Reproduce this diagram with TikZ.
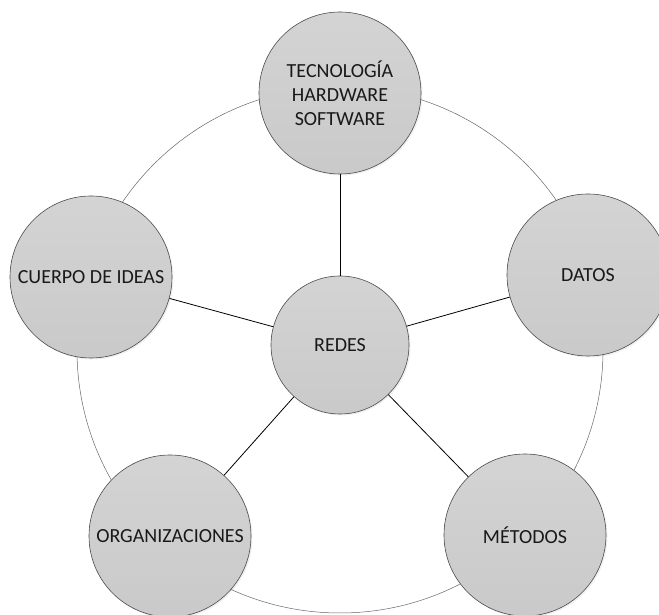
\documentclass[tikz,border=0pt]{standalone}
\usepackage{fontspec}
\setmainfont{Carlito}
\usetikzlibrary{shadows}

\tikzset{
  bola/.style={circle, draw=black!70, line width=0.6pt, top color=black!17, bottom color=black!21,
    minimum size=162pt, inner sep=0pt, align=center, font=\fontsize{20}{24}\selectfont,
    text=black!90, drop shadow={opacity=0.12, shadow xshift=1.5pt, shadow yshift=-1.5pt}},
  radio/.style={line width=0.8pt, black}
}

\begin{document}
\begin{tikzpicture}[x=1pt, y=1pt]
  \useasboundingbox (0,0) rectangle (659,615);
  % anillo exterior
  \draw[black!60, line width=0.5pt] (340,265) circle (263);
  % nodos
  \node[bola] (tec) at (340,522) {TECNOLOGÍA\\HARDWARE\\SOFTWARE};
  \node[bola] (cue) at (91,338) {CUERPO DE IDEAS};
  \node[bola] (dat) at (588,340) {DATOS};
  \node[bola] (org) at (170,79) {ORGANIZACIONES};
  \node[bola] (met) at (525,80) {MÉTODOS};
  \node[bola, minimum size=138pt] (red) at (340,270) {REDES};
  % radios
  \foreach \n in {tec,cue,dat,org,met}{
    \draw[radio] (red) -- (\n);
  }
\end{tikzpicture}
\end{document}
